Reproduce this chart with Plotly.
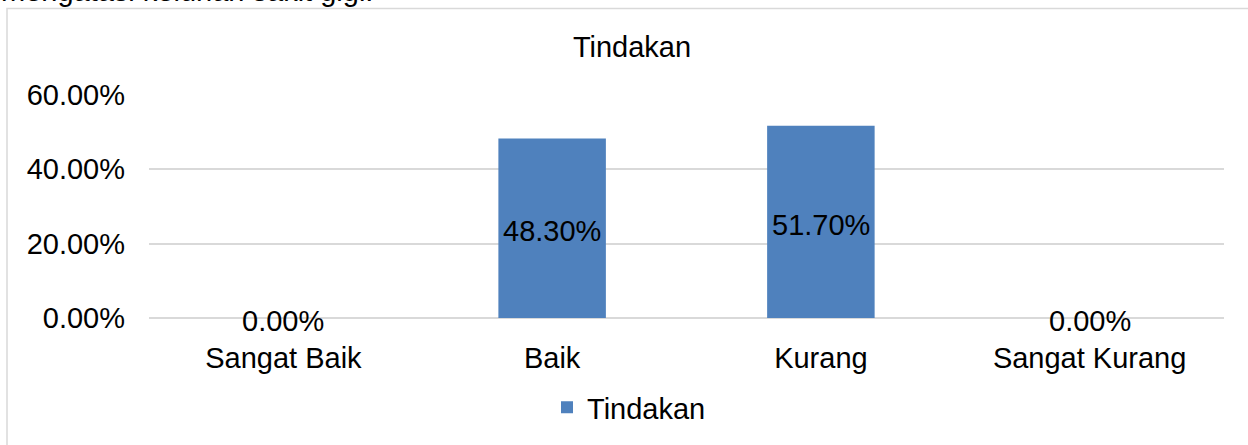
import plotly.graph_objects as go

categories = ["Sangat Baik", "Baik", "Kurang", "Sangat Kurang"]
values = [0.0, 0.483, 0.517, 0.0]
series_name = "Tindakan"
chart_title = "Tindakan"
caption_text = "mengatasi keluhan sakit gigi."
y_tick_vals = [0.0, 0.2, 0.4, 0.6]

W, H = 1248, 445
L, R, T, B = 149, 24, 95, 123
PW, PH = W - L - R, H - T - B


def px_x(p):
    return (p - L) / PW


def px_y(p):
    return (H - B - p) / PH


FONT = "Liberation Sans, Arial, sans-serif"
FS = 29

fig = go.Figure()
fig.add_trace(go.Bar(
    x=categories,
    y=values,
    name=series_name,
    marker=dict(color="#4F81BD", line=dict(width=0)),
    width=0.4,
    textposition="none",
    showlegend=True,
))

annotations = []
for c, v in zip(categories, values):
    annotations.append(dict(
        x=c, y=v / 2, xref="x", yref="y", yshift=-3,
        text=f"{v:.2%}", showarrow=False,
        font=dict(family=FONT, size=FS, color="black"),
        xanchor="center", yanchor="middle",
    ))

annotations.append(dict(
    x=px_x(-1), y=px_y(-11), xref="paper", yref="paper",
    text=caption_text, showarrow=False,
    font=dict(family=FONT, size=FS, color="black"),
    xanchor="left", yanchor="middle",
))

fig.update_layout(
    width=W, height=H,
    margin=dict(l=L, r=R, t=T, b=B),
    paper_bgcolor="white",
    plot_bgcolor="white",
    font=dict(family=FONT, size=FS, color="black"),
    title=dict(
        text=chart_title, x=632 / W, xref="container", xanchor="center",
        y=1 - 47 / H, yref="container", yanchor="middle",
        font=dict(family=FONT, size=FS, color="black"),
    ),
    xaxis=dict(
        type="category", showgrid=False, zeroline=False, showline=False,
        ticks="", tickfont=dict(family=FONT, size=FS, color="black"),
        ticklabelstandoff=20,
    ),
    yaxis=dict(
        range=[0, 0.6], tickvals=y_tick_vals, tickformat=".2%",
        showgrid=True, gridcolor="#D9D9D9", gridwidth=1.5,
        zeroline=True, zerolinecolor="#D9D9D9", zerolinewidth=1.5,
        showline=False, ticks="",
        tickfont=dict(family=FONT, size=FS, color="black"),
        ticklabelstandoff=23,
    ),
    legend=dict(
        orientation="h", x=px_x(629), xanchor="center",
        y=px_y(413), yanchor="middle",
        font=dict(family=FONT, size=FS, color="black"),
        bgcolor="rgba(0,0,0,0)", itemwidth=30,
    ),
    annotations=annotations,
    bargap=0.6,
    shapes=[dict(
        type="rect", xref="paper", yref="paper",
        x0=px_x(7), x1=px_x(1270), y0=px_y(470), y1=px_y(7),
        line=dict(color="#D9D9D9", width=1.5), fillcolor="rgba(0,0,0,0)",
        layer="below",
    )],
)

fig.write_html(
    "out.html",
    config={"displayModeBar": False},
    post_script="document.body.style.margin='0';document.body.style.padding='0';",
)
